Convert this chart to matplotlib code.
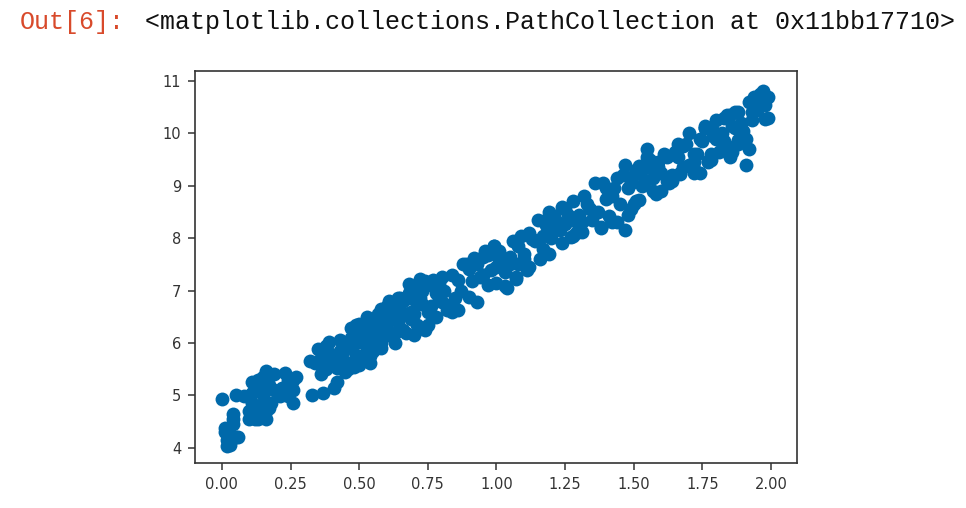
import matplotlib
matplotlib.use('Agg')
import matplotlib.pyplot as plt

# ten values per row, x and y rows line up
x = [0.00, 0.01, 0.01, 0.02, 0.03, 0.02, 0.03, 0.05, 0.06, 0.04,
     0.04, 0.04, 0.03, 0.05, 0.08, 0.10, 0.11, 0.12, 0.13, 0.16,
     0.19, 0.23, 0.26, 0.26, 0.26, 0.24, 0.21, 0.19, 0.17, 0.15,
     0.14, 0.16, 0.14, 0.12, 0.10, 0.10, 0.11, 0.16, 0.13, 0.17,
     0.18, 0.22, 0.24, 0.27, 0.13, 0.11, 0.15, 0.23, 0.25, 0.12,
     0.32, 0.33, 0.35, 0.37, 0.38, 0.41, 0.42, 0.44, 0.46, 0.34,
     0.38, 0.42, 0.45, 0.48, 0.50, 0.52, 0.54, 0.36, 0.39, 0.41,
     0.43, 0.46, 0.49, 0.51, 0.53, 0.55, 0.57, 0.59, 0.61, 0.44,
     0.47, 0.50, 0.52, 0.55, 0.58, 0.60, 0.62, 0.64, 0.66, 0.47,
     0.49, 0.51, 0.54, 0.57, 0.59, 0.61, 0.63, 0.65, 0.68, 0.70,
     0.72, 0.74, 0.56, 0.58, 0.60, 0.62, 0.64, 0.67, 0.69, 0.71,
     0.73, 0.75, 0.77, 0.79, 0.81, 0.66, 0.68, 0.70, 0.72, 0.74,
     0.76, 0.78, 0.80, 0.82, 0.84, 0.85, 0.83, 0.87, 0.89, 0.91,
     0.93, 0.95, 0.97, 0.99, 1.01, 1.03, 0.90, 0.92, 0.94, 0.96,
     0.98, 1.00, 1.02, 1.04, 1.06, 1.08, 0.93, 0.95, 0.97, 0.99,
     1.01, 1.05, 1.07, 1.09, 1.10, 1.12, 1.14, 1.16, 1.18, 1.08,
     1.10, 1.13, 1.15, 1.17, 1.19, 1.21, 1.23, 1.25, 1.27, 1.29,
     1.20, 1.22, 1.24, 1.26, 1.28, 1.30, 1.32, 1.21, 1.23, 1.25,
     1.28, 1.36, 1.38, 1.40, 1.42, 1.33, 1.35, 1.37, 1.39, 1.41,
     1.43, 1.45, 1.47, 1.49, 1.51, 1.53, 1.46, 1.48, 1.50, 1.52,
     1.54, 1.56, 1.58, 1.60, 1.49, 1.51, 1.53, 1.55, 1.57, 1.59,
     1.61, 1.63, 1.65, 1.67, 1.55, 1.58, 1.60, 1.62, 1.64, 1.66,
     1.68, 1.70, 1.72, 1.74, 1.76, 1.64, 1.66, 1.68, 1.70, 1.72,
     1.74, 1.76, 1.78, 1.80, 1.82, 1.84, 1.86, 1.88, 1.72, 1.75,
     1.77, 1.79, 1.81, 1.83, 1.85, 1.87, 1.89, 1.91, 1.76, 1.78,
     1.80, 1.82, 1.84, 1.86, 1.88, 1.90, 1.92, 1.82, 1.85, 1.87,
     1.89, 1.91, 1.93, 1.92, 1.94, 1.95, 1.96, 1.97, 1.98, 1.99,
     1.99, 1.97, 1.95, 1.98, 1.93, 0.86, 0.88, 0.78, 0.80, 0.84,
     0.73, 0.76, 0.69, 0.63, 0.65, 0.60, 0.56, 0.52, 0.48, 0.44,
     0.40, 0.36, 0.55, 0.58, 0.62, 0.67, 0.71, 0.75, 0.79, 1.11,
     1.17, 1.24, 1.31, 1.34, 1.44, 1.56, 1.69, 1.73, 1.79, 1.83,
     0.39, 0.43, 0.47, 0.49, 0.53, 0.57, 0.60, 0.64, 0.68, 0.72,
     0.46, 0.50, 0.54, 0.58, 0.63, 0.70, 0.74, 0.82, 0.86, 0.90,
     1.03, 1.07, 1.12, 1.19, 1.27, 1.31, 1.38, 1.44, 1.48, 1.52,
     1.57, 1.62, 1.67, 1.72, 1.77, 1.83, 1.88, 1.90, 1.40, 1.47,
     0.95, 1.00, 1.05, 1.18, 1.22, 1.30, 1.42, 1.50, 1.59, 1.65]
y = [4.93, 4.38, 4.30, 4.03, 4.05, 4.15, 4.13, 4.20, 4.21, 4.55,
     4.65, 4.45, 4.25, 5.00, 4.98, 4.97, 5.05, 5.22, 5.30, 5.46,
     5.40, 5.42, 5.30, 5.10, 4.85, 4.98, 4.98, 5.10, 5.20, 5.00,
     4.80, 4.70, 4.60, 4.55, 4.55, 4.70, 4.85, 4.55, 4.55, 4.75,
     4.86, 5.15, 5.30, 5.36, 5.12, 5.25, 5.35, 5.05, 5.22, 4.62,
     5.65, 5.00, 5.88, 5.05, 5.95, 5.15, 5.26, 5.98, 6.00, 5.62,
     5.50, 5.52, 5.45, 5.55, 6.37, 5.68, 5.75, 5.72, 5.80, 5.68,
     5.85, 5.62, 5.78, 5.75, 5.90, 5.85, 6.55, 6.30, 6.80, 5.82,
     5.95, 6.02, 6.20, 6.10, 6.00, 6.25, 6.15, 6.40, 6.25, 6.10,
     6.20, 6.35, 6.40, 6.50, 6.45, 6.15, 6.60, 6.75, 6.85, 6.55,
     6.95, 7.10, 6.28, 6.65, 6.40, 6.50, 6.70, 6.20, 6.45, 6.35,
     6.75, 6.60, 7.20, 6.85, 7.00, 6.80, 6.95, 7.05, 6.85, 7.18,
     6.70, 6.95, 7.25, 6.62, 7.30, 6.85, 6.72, 7.00, 7.50, 7.18,
     6.78, 7.65, 7.10, 7.85, 7.60, 7.35, 7.42, 7.62, 7.25, 7.75,
     7.40, 7.15, 7.55, 7.05, 7.95, 7.50, 7.50, 7.30, 7.68, 7.85,
     7.75, 7.50, 7.25, 8.05, 7.70, 8.10, 7.95, 7.60, 8.25, 7.85,
     7.60, 7.98, 8.35, 7.80, 8.50, 8.15, 8.25, 8.55, 8.35, 8.10,
     8.00, 8.30, 8.60, 8.45, 8.70, 8.20, 8.80, 8.42, 8.15, 8.28,
     8.05, 9.05, 8.20, 8.75, 8.30, 8.65, 8.35, 8.50, 9.05, 8.42,
     8.95, 8.65, 8.15, 8.55, 9.30, 9.00, 9.20, 8.95, 8.65, 9.38,
     9.10, 9.50, 8.85, 9.25, 9.05, 8.70, 9.30, 9.55, 9.15, 9.35,
     9.60, 9.05, 9.65, 9.25, 9.70, 9.40, 8.90, 9.55, 9.20, 9.80,
     9.35, 10.00, 9.45, 9.25, 10.10, 9.10, 9.55, 9.75, 9.40, 9.60,
     9.90, 10.15, 9.50, 10.25, 9.70, 10.35, 9.65, 10.40, 9.25, 9.85,
     9.45, 10.05, 9.65, 10.30, 9.55, 10.40, 10.20, 9.40, 10.10, 9.60,
     9.90, 10.00, 9.75, 10.15, 9.80, 10.05, 9.70, 9.85, 10.35, 10.10,
     9.95, 9.90, 10.25, 10.60, 10.70, 10.45, 10.75, 10.80, 10.55, 10.30,
     10.70, 10.58, 10.62, 10.28, 10.40, 7.20, 7.50, 6.50, 6.78, 6.60,
     7.00, 7.10, 6.60, 6.20, 6.85, 6.70, 6.20, 6.05, 6.10, 5.60,
     5.70, 5.40, 6.35, 6.05, 6.55, 6.55, 6.75, 6.35, 7.15, 7.40,
     8.05, 7.90, 8.30, 8.55, 9.15, 9.35, 9.80, 9.60, 9.95, 9.85,
     6.02, 6.05, 6.28, 6.35, 6.50, 6.38, 6.62, 6.85, 7.12, 7.22,
     5.50, 5.58, 5.62, 5.90, 6.00, 6.15, 6.25, 6.70, 6.62, 6.88,
     7.08, 7.22, 7.45, 7.70, 8.02, 8.12, 8.22, 8.30, 8.45, 8.72,
     8.90, 9.10, 9.22, 9.32, 9.48, 9.70, 9.88, 9.95, 8.95, 9.40,
     7.30, 7.45, 7.65, 8.35, 8.20, 8.45, 8.80, 9.20, 9.45, 9.60]
x_ticks = [0.00, 0.25, 0.50, 0.75, 1.00, 1.25, 1.50, 1.75, 2.00]
y_ticks = [4, 5, 6, 7, 8, 9, 10, 11]

n = min(len(x), len(y))

fig = plt.figure(figsize=(9.66, 5.08), dpi=100)
ax = fig.add_axes([195/966, 1-463/508, 602/966, 392/508])
ax.scatter(x[:n], y[:n], s=100, color='#0069aa', linewidths=0)
ax.set_xlim(-0.098, 2.095)
ax.set_ylim(3.71, 11.19)
ax.set_xticks(x_ticks)
ax.set_xticklabels(['%.2f' % t for t in x_ticks])
ax.set_yticks(y_ticks)
ax.tick_params(length=5, width=1.1, color='#333333', labelcolor='#333333', labelsize=10.5, pad=5)
for s in ax.spines.values():
    s.set_linewidth(1.2)
    s.set_color('#333333')

fig.text(20/966, 1-22/508, 'Out[6]:', color='#d84a2b', family='Liberation Mono', fontsize=18, va='center')
fig.text(145/966, 1-22/508, '<matplotlib.collections.PathCollection at 0x11bb17710>',
         color='#111111', family='Liberation Mono', fontsize=18, va='center')

plt.savefig('out.png', dpi=100)
plt.close()
